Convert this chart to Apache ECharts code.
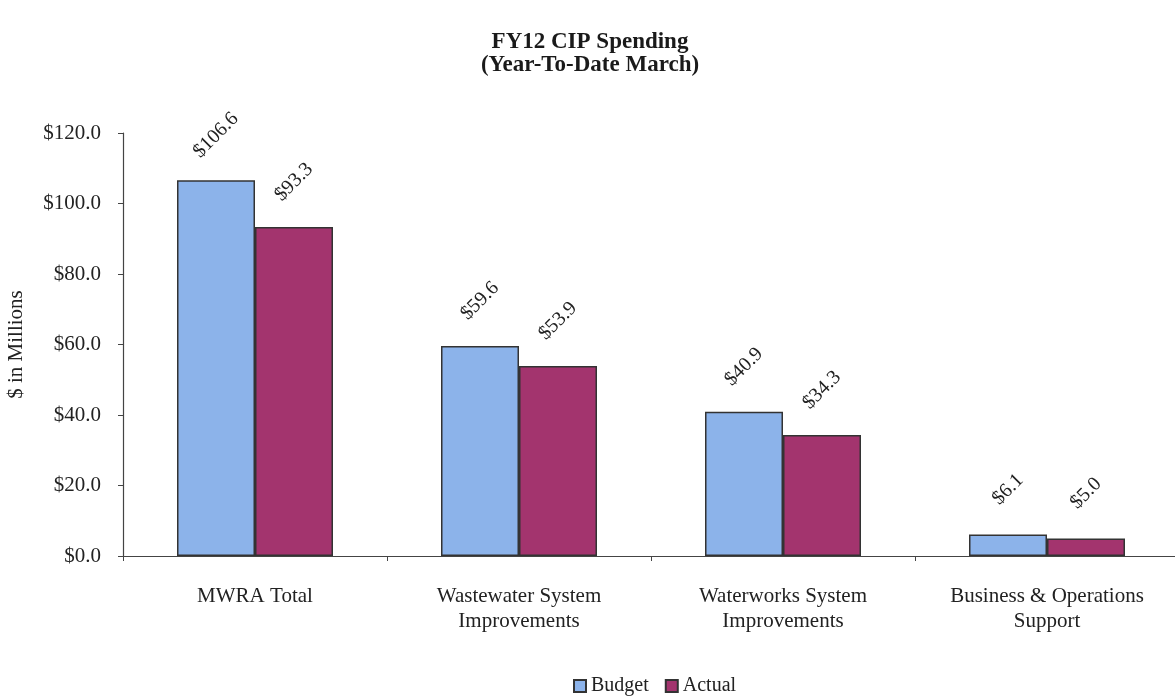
<!DOCTYPE html>
<html>
<head>
<meta charset="utf-8">
<script src="https://cdn.jsdelivr.net/npm/echarts@6/dist/echarts.min.js"></script>
<style>html,body{margin:0;padding:0;background:#fff;}#c{width:1175px;height:697px;}</style>
</head>
<body>
<div id="c"></div>
<script>
var categories = ['MWRA Total', 'Wastewater System\nImprovements', 'Waterworks System\nImprovements', 'Business & Operations\nSupport'];
var budget = [106.6, 59.6, 40.9, 6.1];
var actual = [93.3, 53.9, 34.3, 5.0];
var yTicks = [0, 20, 40, 60, 80, 100, 120];

var font = 'Liberation Serif';
var chart = echarts.init(document.getElementById('c'));
var labelCfg = {
  show: true, position: 'top', distance: 45, rotate: 45,
  align: 'center', verticalAlign: 'middle',
  fontFamily: font, fontSize: 20, color: '#222',
  formatter: function (p) { return '$' + p.value.toFixed(1); }
};
chart.setOption({
  animation: false,
  title: {
    text: 'FY12 CIP Spending\n(Year-To-Date March)',
    left: 585, top: 26, textAlign: 'center',
    textStyle: { fontFamily: font, fontWeight: 'bold', fontSize: 23, lineHeight: 23, color: '#1a1a1a' }
  },
  legend: {
    top: 671, left: 568, itemWidth: 12, itemHeight: 12, itemGap: 16,
    icon: 'rect',
    textStyle: { fontFamily: font, fontSize: 20, color: '#222' },
    data: ['Budget', 'Actual']
  },
  grid: { left: 123, right: -4, top: 133, bottom: 141, outerBoundsMode: 'none', containLabel: false },
  xAxis: {
    type: 'category', data: categories,
    axisLine: { lineStyle: { color: '#444', width: 1.2 } },
    axisTick: { show: true, length: 5, lineStyle: { color: '#444' } },
    axisLabel: { fontFamily: font, fontSize: 21, color: '#222', margin: 28, lineHeight: 25 }
  },
  yAxis: {
    type: 'value', min: yTicks[0], max: yTicks[yTicks.length - 1], interval: 20,
    name: '$ in Millions', nameLocation: 'middle', nameGap: 96,
    nameTextStyle: { fontFamily: font, fontSize: 21, color: '#222' },
    axisLine: { show: true, lineStyle: { color: '#444', width: 1.2 } },
    axisTick: { show: true, length: 5, lineStyle: { color: '#444' } },
    splitLine: { show: false },
    axisLabel: { fontFamily: font, fontSize: 21, color: '#222', margin: 22,
      formatter: function (v) { return '$' + v.toFixed(1); } }
  },
  series: [
    { name: 'Budget', type: 'bar', data: budget, barWidth: 78, barGap: '0%',
      itemStyle: { color: '#8cb3ea', borderColor: '#333', borderWidth: 1.5 }, label: labelCfg },
    { name: 'Actual', type: 'bar', data: actual, barWidth: 78,
      itemStyle: { color: '#a3346e', borderColor: '#333', borderWidth: 1.5 }, label: labelCfg }
  ]
});
</script>
</body>
</html>
